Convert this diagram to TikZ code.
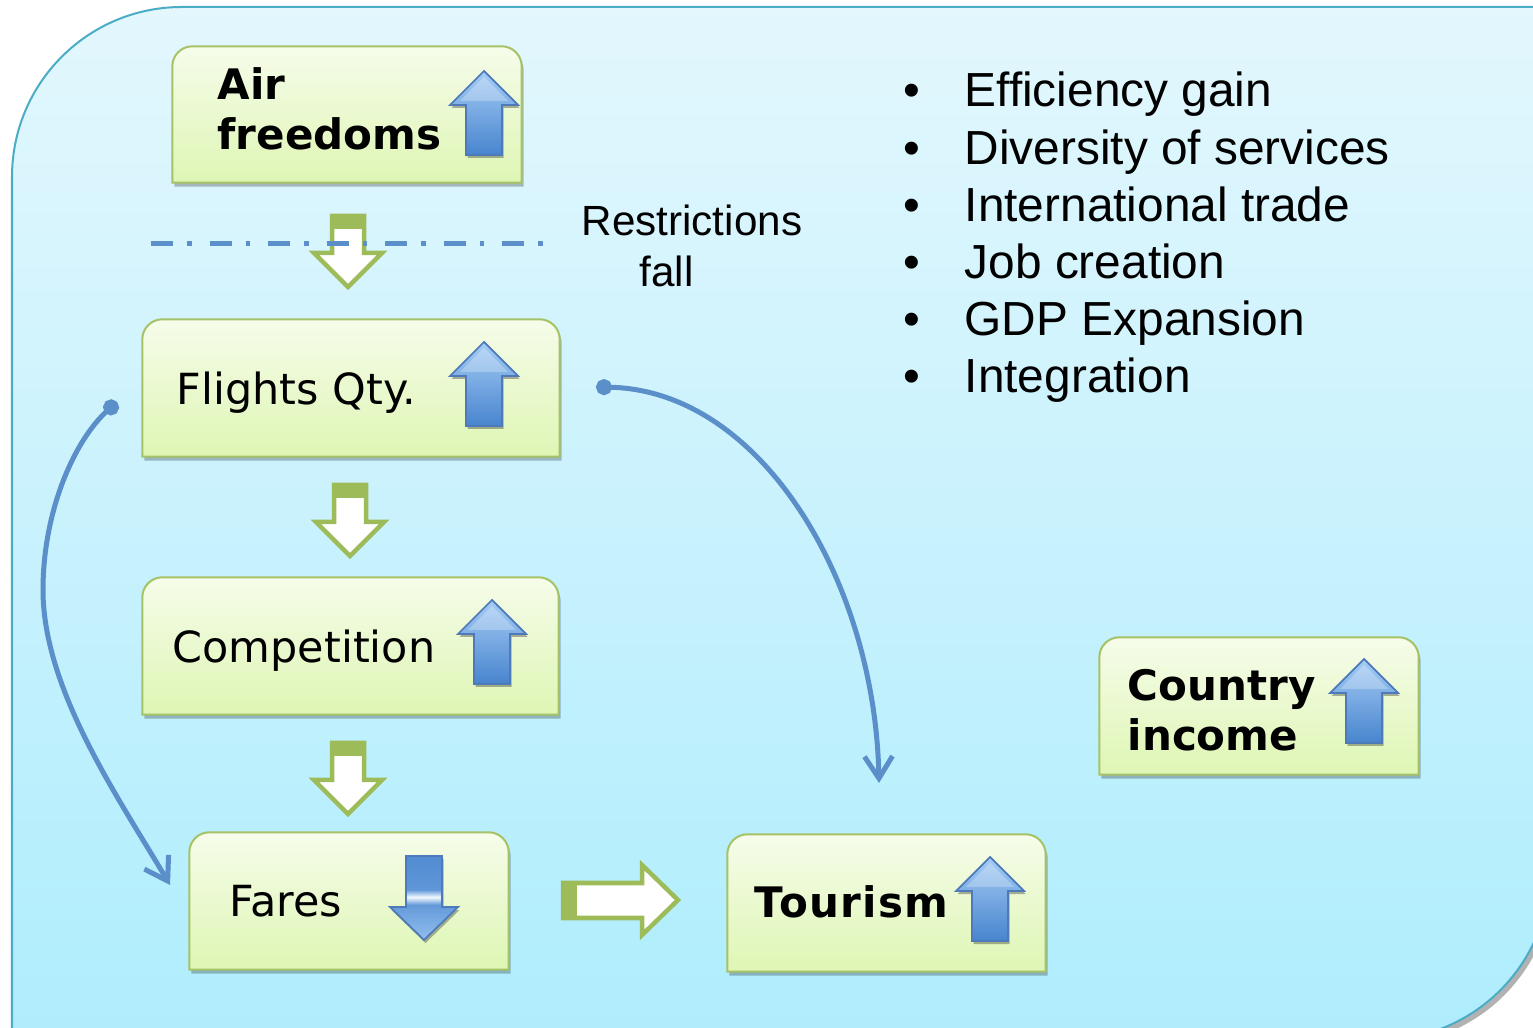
\documentclass[tikz,border=0pt]{standalone}
\usepackage{fontspec}
\setmainfont{DejaVu Sans}
\newfontfamily\arialfont{Liberation Sans}
\usetikzlibrary{arrows.meta,calc,shadows,fit}

\definecolor{bgtop}{RGB}{227,247,253}
\definecolor{bgbot}{RGB}{174,237,253}
\definecolor{bgline}{RGB}{75,172,198}
\definecolor{pantop}{RGB}{246,252,234}
\definecolor{panbot}{RGB}{222,246,180}
\definecolor{panline}{RGB}{166,194,102}
\definecolor{olive}{RGB}{157,187,89}
\definecolor{linkblue}{RGB}{91,143,201}
\definecolor{arrtop}{RGB}{165,205,245}
\definecolor{arrbot}{RGB}{72,132,206}
\definecolor{arrline}{RGB}{78,122,186}

% glossy band for the falling arrow (0bp = bottom)
\pgfdeclareverticalshading{bandblue}{100bp}{%
  color(0bp)=(arrtop!80!arrbot); color(25bp)=(arrtop!80!arrbot);
  color(46bp)=(arrbot!70!arrtop); color(50.5bp)=(white!85!arrtop);
  color(55bp)=(arrbot!75!arrtop); color(75bp)=(arrbot!90!arrtop);
  color(100bp)=(arrbot!90!arrtop)}

% panel with rounded top corners, square bottom corners
\newcommand\topround[1]{%
  \path[panelfill] (#1.south west) -- ($(#1.north west)+(0,20)$)
    .. controls ($(#1.north west)+(0,9)$) and ($(#1.north west)+(9,0)$) .. ($(#1.north west)+(20,0)$)
    -- ($(#1.north east)+(-20,0)$)
    .. controls ($(#1.north east)+(-9,0)$) and ($(#1.north east)+(0,9)$) .. ($(#1.north east)+(0,20)$)
    -- (#1.south east) -- cycle;}

% glossy blue block arrow pointing up, tip at (#1,#2)
\newcommand\bluearrowup[2]{%
  \path[bluearr] (#1,#2) -- ++(34,34) -- ++(-16,0) -- ++(0,50) -- ++(-36,0)
    -- ++(0,-50) -- ++(-16,0) -- cycle;
  \path[fill=white,opacity=0.25] (#1,#2) ++(0,6) -- ++(24,24) -- ++(-48,0) -- cycle;}

% hollow olive arrow pointing down, shaft top centred at (#1,#2)
\newcommand\greendown[2]{%
  \path[greenarr] (#1,#2) ++(-16,0) -- ++(32,0) -- ++(0,37) -- ++(18,0)
    -- ++(-34,34) -- ++(-34,-34) -- ++(18,0) -- cycle;
  \fill[olive] (#1,#2) ++(-18,-2) rectangle ++(36,15);}

\begin{document}
\begin{tikzpicture}[x=0.01cm,y=-0.01cm,
  panelfill/.style={top color=pantop,bottom color=panbot,draw=panline,line width=0.02cm,
    drop shadow={shadow xshift=0.02cm,shadow yshift=-0.04cm,opacity=0.25,fill=black}},
  frame/.style={inner sep=0pt,draw=none},
  bluearr/.style={top color=arrtop,bottom color=arrbot,draw=arrline,line width=0.5pt,
    line join=miter,drop shadow={shadow xshift=0.015cm,shadow yshift=-0.03cm,opacity=0.3,fill=black}},
  bluedown/.style={shading=bandblue,draw=arrline,line width=0.5pt,line join=miter,
    drop shadow={shadow xshift=0.015cm,shadow yshift=-0.03cm,opacity=0.3,fill=black}},
  greenarr/.style={draw=olive,fill=white,line width=0.045cm,line join=miter},
  boxtext/.style={anchor=base west,inner sep=0pt,font=\fontsize{12.2}{14.2}\selectfont},
  boldtext/.style={boxtext,font=\fontsize{11.95}{14.2}\selectfont\bfseries},
  listtext/.style={anchor=base west,inner sep=0pt,font=\arialfont\fontsize{13.6}{16}\selectfont},
  bulletmark/.style={anchor=base,inner sep=0pt,font=\arialfont\fontsize{13.6}{16}\selectfont},
  note/.style={anchor=base west,inner sep=0pt,font=\arialfont\fontsize{12}{14}\selectfont},
  link/.style={draw=linkblue,line width=0.05cm,
    {Circle[length=0.16cm]}-{Straight Barb[length=0.22cm,width=0.28cm]}},
]
\useasboundingbox (0,0) rectangle (1533,1028);

% background panel
\path[top color=bgtop,bottom color=bgbot,draw=bgline,line width=0.02cm,
  drop shadow={shadow xshift=0.04cm,shadow yshift=-0.05cm,opacity=0.3,fill=black}]
  (12,1045) -- (12,177) .. controls (12,83) and (88,7) .. (182,7) -- (1550,7)
  -- (1550,870) .. controls (1550,964) and (1474,1040) .. (1380,1040) -- cycle;

% panels
\node[frame,fit={(173,47) (521,182)}] (air) {};
\node[frame,fit={(143,320) (559,456)}] (flights) {};
\node[frame,fit={(143,578) (558,714)}] (comp) {};
\node[frame,fit={(190,833) (508,969)}] (fares) {};
\node[frame,fit={(728,835) (1045,971)}] (tourism) {};
\node[frame,fit={(1100,638) (1418,774)}] (income) {};
\foreach \p in {air,flights,comp,fares,tourism,income} {\topround{\p}}

% panel labels
\node[boldtext] (airA) at (217,100) {Air};
\node[boldtext] (airB) at (217,150) {freedoms};
\node[boxtext] (flightsT) at (176,405) {Flights Qty.};
\node[boxtext] (compT) at (172,663) {Competition};
\node[boxtext] (faresT) at (229,916) {Fares};
\node[boldtext,font=\fontsize{11.95}{14.2}\selectfont\bfseries\addfontfeatures{LetterSpace=3}] (tourismT) at (754,918) {Tourism};
\node[boldtext] (incomeA) at (1127,701) {Country};
\node[boldtext] (incomeB) at (1127,751) {income};

% trend arrows
\bluearrowup{484}{71}
\bluearrowup{484}{342}
\bluearrowup{492}{600}
\bluearrowup{990}{857}
\bluearrowup{1364}{659}
\path[bluedown] (424,940) -- ++(34,-33) -- ++(-16,0) -- ++(0,-51) -- ++(-36,0)
  -- ++(0,51) -- ++(-16,0) -- cycle;

% flow arrows
\greendown{348}{216}
\greendown{350}{485}
\greendown{348}{743}
\path[greenarr] (563,883) -- (642,883) -- (642,865) -- (678,900) -- (642,935)
  -- (642,918) -- (563,918) -- cycle;
\fill[olive] (561,881) rectangle (577,920);

% restriction line
\draw[linkblue,line width=0.05cm,dash pattern=on 0.22cm off 0.14cm on 0.045cm off 0.18cm]
  (151,244) -- (548,244);
\node[note] (restrA) at (581,236) {Restrictions};
\node[note] (restrB) at (639,287) {fall};

% benefits list
\foreach \t [count=\i from 0] in {Efficiency gain,Diversity of services,International trade,Job creation,GDP Expansion,Integration} {
  \node[bulletmark] (b\i) at (912,{107+57.2*\i}) {•};
  \node[listtext] (l\i) at (964,{107+57.2*\i}) {\t};
}

% feedback links
\coordinate (flL) at (117,402);
\coordinate (flR) at (596,387);
\coordinate (faresIn) at (170,885);
\coordinate (tourIn) at (879,783);
\path[link] (flL) .. controls (75,440) and (43,510) .. (43,590)
  .. controls (43,690) and (120,800) .. (faresIn);
\path[link] (flR) .. controls (760,390) and (875,580) .. (tourIn);
\end{tikzpicture}
\end{document}
